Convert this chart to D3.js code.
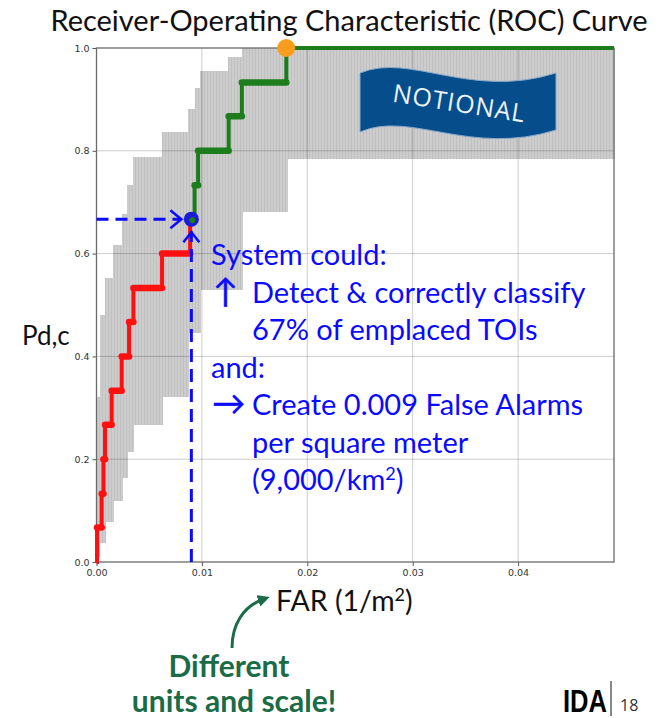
<!DOCTYPE html>
<html>
<head>
<meta charset="utf-8">
<script src="https://cdn.jsdelivr.net/npm/d3@7"></script>
<style>
  body { margin: 0; background: #fff; }
  svg { display: block; }
</style>
</head>
<body>
<div id="chart"></div>
<script>
// ROC curve values
const farMax = 0.0491;
const yTicks = [0, 0.2, 0.4, 0.6, 0.8, 1.0];
const xTicks = [0, 0.01, 0.02, 0.03, 0.04];

// uncertainty band: left edge of each column, upper and lower Pd
const bandFar = [0, 0.00033, 0.00081, 0.00157, 0.00242, 0.0029, 0.00347, 0.00622, 0.00869, 0.00935, 0.00983, 0.01249, 0.01382, 0.01809];
const bandHi  = [0.321, 0.481, 0.553, 0.617, 0.677, 0.733, 0.788, 0.837, 0.881, 0.922, 0.956, 0.982, 1.0, 1.0];
const bandLo  = [0.01, 0.037, 0.078, 0.119, 0.163, 0.214, 0.267, 0.321, 0.446, 0.446, 0.529, 0.529, 0.681, 0.784];

// red part of the curve (below operating point)
const redFar = [0, 0.00005, 0.00049, 0.00066, 0.00081, 0.00144, 0.00239, 0.00309, 0.0035, 0.00622, 0.00888];
const redPd  = [0, 0.067, 0.133, 0.2, 0.267, 0.333, 0.4, 0.467, 0.533, 0.6, 0.667];

// green part of the curve (above operating point)
const greenFar = [0.00888, 0.00931, 0.00964, 0.01254, 0.01379, 0.01801, 0.0491];
const greenPd  = [0.667, 0.733, 0.8, 0.867, 0.933, 1.0, 1.0];

const opFar = 0.009, opPd = 0.667;
const topFar = 0.018, topPd = 1.0;

const W = 660, H = 718;
const svg = d3.select("#chart").append("svg")
    .attr("width", W)
    .attr("height", H);

const x = d3.scaleLinear().domain([0, farMax]).range([96.5, 614]);
const y = d3.scaleLinear().domain([0, 1]).range([562, 48]);

// stripe pattern for the band
const defs = svg.append("defs");
const pat = defs.append("pattern")
    .attr("id", "stripes")
    .attr("patternUnits", "userSpaceOnUse")
    .attr("width", 3).attr("height", 10);
pat.append("rect").attr("width", 3).attr("height", 10).attr("fill", "#cdcdcd");
pat.append("rect").attr("width", 1).attr("height", 10).attr("fill", "#c0c0c0");

defs.append("marker")
    .attr("id", "greenHead")
    .attr("viewBox", "0 0 10 10")
    .attr("refX", 5).attr("refY", 5)
    .attr("markerWidth", 4).attr("markerHeight", 4)
    .attr("orient", "auto")
  .append("path")
    .attr("d", "M0,0 L10,5 L0,10 z")
    .attr("fill", "#1b6b47");

// title
svg.append("text")
    .attr("x", 349).attr("y", 31)
    .attr("text-anchor", "middle")
    .style("font-family", "Lato, 'Open Sans', sans-serif")
    .style("font-size", "29px")
    .attr("fill", "#111")
    .text("Receiver-Operating Characteristic (ROC) Curve");

// band
const bandCols = bandFar.map((f, i) => ({
    x0: f,
    x1: i < bandFar.length - 1 ? bandFar[i + 1] : farMax,
    lo: bandLo[i],
    hi: bandHi[i]
}));
svg.append("g").selectAll("rect")
    .data(bandCols)
    .enter().append("rect")
    .attr("x", d => x(d.x0))
    .attr("width", d => x(d.x1) - x(d.x0) + 0.5)
    .attr("y", d => y(d.hi))
    .attr("height", d => y(d.lo) - y(d.hi))
    .attr("fill", "url(#stripes)")
    .attr("shape-rendering", "crispEdges");

// grid
const grid = svg.append("g").attr("stroke", "rgba(0,0,0,0.2)").attr("stroke-width", 1);
grid.selectAll(".gx").data(xTicks.slice(1)).enter().append("line")
    .attr("x1", d => x(d)).attr("x2", d => x(d))
    .attr("y1", y(0)).attr("y2", y(1));
grid.selectAll(".gy").data(yTicks.slice(1, -1)).enter().append("line")
    .attr("x1", x(0)).attr("x2", x(farMax))
    .attr("y1", d => y(d)).attr("y2", d => y(d));

// axes
const yAxis = svg.append("g")
    .attr("transform", `translate(${x(0)},0)`)
    .call(d3.axisLeft(y).tickValues(yTicks).tickFormat(d3.format(".1f")).tickSize(4).tickPadding(3));
const xAxis = svg.append("g")
    .attr("transform", `translate(0,${y(0)})`)
    .call(d3.axisBottom(x).tickValues(xTicks).tickFormat(d3.format(".2f")).tickSize(4).tickPadding(3));
[xAxis, yAxis].forEach(g => {
    g.select(".domain").remove();
    g.selectAll("line").attr("stroke", "#555");
    g.selectAll("text")
        .style("font-family", "'DejaVu Sans', sans-serif")
        .style("font-size", "9.5px")
        .attr("fill", "#333");
});

// frame
svg.append("rect")
    .attr("x", x(0)).attr("y", y(1))
    .attr("width", x(farMax) - x(0))
    .attr("height", y(0) - y(1))
    .attr("fill", "none")
    .attr("stroke", "#6a6a6a")
    .attr("stroke-width", 1.3);

// step curves
const step = d3.line().x(d => x(d[0])).y(d => y(d[1])).curve(d3.curveStepAfter);
const redPts = redFar.map((f, i) => [f, redPd[i]]);
const greenPts = greenFar.map((f, i) => [f, greenPd[i]]);

function drawCurve(pts, color, skipLast) {
    svg.append("path")
        .datum(pts)
        .attr("d", step)
        .attr("fill", "none")
        .attr("stroke", color)
        .attr("stroke-width", 4);
    const segs = [];
    for (let i = 1; i < pts.length - 1; i++) segs.push([pts[i][0], pts[i + 1][0], pts[i][1]]);
    if (skipLast) segs.pop();
    svg.append("g").selectAll("line")
        .data(segs)
        .enter().append("line")
        .attr("x1", d => x(d[0])).attr("x2", d => x(d[1]))
        .attr("y1", d => y(d[2])).attr("y2", d => y(d[2]))
        .attr("stroke", color)
        .attr("stroke-width", 6.5)
        .attr("stroke-linecap", "round");
}
drawCurve(redPts, "#ff1010", false);
drawCurve(greenPts, "#1d7d1d", true);

// blue dashed guides
const blue = "#0a0aff";
svg.append("line")
    .attr("x1", x(0)).attr("x2", x(opFar) - 10)
    .attr("y1", y(opPd)).attr("y2", y(opPd))
    .attr("stroke", blue).attr("stroke-width", 3)
    .attr("stroke-dasharray", "12,7");
svg.append("line")
    .attr("x1", x(opFar)).attr("x2", x(opFar))
    .attr("y1", y(0)).attr("y2", y(opPd) + 12)
    .attr("stroke", blue).attr("stroke-width", 3)
    .attr("stroke-dasharray", "13,7");
svg.append("path")
    .attr("d", `M${x(opFar) - 21},${y(opPd) - 9} L${x(opFar) - 10},${y(opPd)} L${x(opFar) - 21},${y(opPd) + 9}`)
    .attr("fill", "none").attr("stroke", blue).attr("stroke-width", 2.5);
svg.append("path")
    .attr("d", `M${x(opFar) - 8},${y(opPd) + 23} L${x(opFar)},${y(opPd) + 13} L${x(opFar) + 8},${y(opPd) + 23}`)
    .attr("fill", "none").attr("stroke", blue).attr("stroke-width", 2.5);

// operating point and top point
svg.append("circle")
    .attr("cx", x(opFar)).attr("cy", y(opPd)).attr("r", 7.5)
    .attr("fill", "#1c1cd8");
svg.append("circle")
    .attr("cx", x(opFar) + 1).attr("cy", y(opPd) + 1).attr("r", 3)
    .attr("fill", "#1d7d1d");
svg.append("circle")
    .attr("cx", x(topFar)).attr("cy", y(topPd)).attr("r", 9)
    .attr("fill", "#f99d1c");

// NOTIONAL banner
svg.append("path")
    .attr("d", "M360,73 C410,52 470,100 556,73 L556,130 C470,157 410,110 360,132 Z")
    .attr("fill", "#064d8c")
    .attr("stroke", "#8aa8c8")
    .attr("stroke-width", 1);
svg.append("text")
    .attr("transform", "translate(458,112) rotate(9)")
    .attr("text-anchor", "middle")
    .style("font-family", "'Open Sans', sans-serif")
    .style("font-size", "25px")
    .style("letter-spacing", "1px")
    .attr("fill", "#eef3f8")
    .text("NOTIONAL");

// axis labels
svg.append("text")
    .attr("x", 22).attr("y", 345)
    .style("font-family", "Lato, sans-serif")
    .style("font-size", "26px")
    .attr("fill", "#111")
    .text("Pd,c");

const farLabel = svg.append("text")
    .attr("x", 276).attr("y", 611)
    .style("font-family", "Lato, sans-serif")
    .style("font-size", "28.5px")
    .attr("fill", "#111");
farLabel.append("tspan").text("FAR (1/m");
farLabel.append("tspan").attr("dy", -10).style("font-size", "18px").text("2");
farLabel.append("tspan").attr("dy", 10).text(")");

// blue explanation text
const noteLines = [
    { x: 211, t: "System could:" },
    { x: 213, t: "\u2191", x2: 252, t2: "Detect & correctly classify", k: 1.15 },
    { x: 252, t: "67% of emplaced TOIs" },
    { x: 211, t: "and:" },
    { x: 212, t: "\u2192", x2: 252, t2: "Create 0.009 False Alarms", k: 1.15 },
    { x: 252, t: "per square meter" },
    { x: 252, t: "(9,000/km", sup: "2", tail: ")" }
];
const note = svg.append("g")
    .style("font-family", "Lato, sans-serif")
    .style("font-size", "29px")
    .attr("fill", blue);
noteLines.forEach((d, i) => {
    const yy = 265 + i * 37.5;
    if (d.t2) {
        // arrow glyphs sized like the slide's symbol font
        note.append("text")
            .attr("transform", `translate(${d.x},${yy}) scale(${d.k})`)
            .attr("stroke", blue).attr("stroke-width", 0.4)
            .text(d.t);
        note.append("text").attr("x", d.x2).attr("y", yy).text(d.t2);
        return;
    }
    const t = note.append("text").attr("x", d.x).attr("y", yy);
    t.append("tspan").text(d.t);
    if (d.sup) {
        t.append("tspan").attr("dy", -10).style("font-size", "18px").text(d.sup);
        t.append("tspan").attr("dy", 10).text(d.tail);
    }
});

// green callout
const green2 = "#1b6b47";
svg.append("path")
    .attr("d", "M232,648 C232,625 243,606 264,599")
    .attr("fill", "none")
    .attr("stroke", green2)
    .attr("stroke-width", 3)
    .attr("marker-end", "url(#greenHead)");
const callout = svg.append("g")
    .style("font-family", "Lato, sans-serif")
    .style("font-size", "30px")
    .style("font-weight", "bold")
    .attr("text-anchor", "middle")
    .attr("fill", green2);
callout.append("text").attr("x", 229).attr("y", 677).text("Different");
callout.append("text").attr("x", 234).attr("y", 712).text("units and scale!");

// footer
svg.append("text")
    .attr("x", 563).attr("y", 712)
    .attr("textLength", 44)
    .attr("lengthAdjust", "spacingAndGlyphs")
    .style("font-family", "'Liberation Sans', Arial, sans-serif")
    .style("font-size", "31px")
    .style("font-weight", "bold")
    .attr("fill", "#000")
    .text("IDA");
svg.append("line")
    .attr("x1", 611).attr("x2", 611)
    .attr("y1", 681).attr("y2", 716)
    .attr("stroke", "#888").attr("stroke-width", 2);
svg.append("text")
    .attr("x", 620).attr("y", 711)
    .style("font-family", "'Open Sans', sans-serif")
    .style("font-size", "16px")
    .attr("fill", "#333")
    .text("18");
</script>
</body>
</html>
